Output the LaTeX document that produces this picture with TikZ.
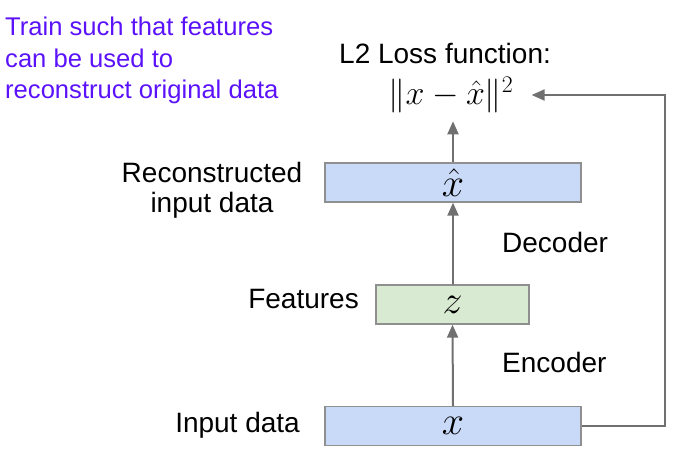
\RequirePackage{fix-cm}
\documentclass[tikz,border=0pt]{standalone}
\usepackage[no-math]{fontspec}
\setmainfont{Liberation Sans}
\usetikzlibrary{arrows.meta}
\definecolor{boxblue}{HTML}{C9DAF8}
\definecolor{boxgreen}{HTML}{D9EAD3}
\definecolor{boxedge}{HTML}{8F8F8F}
\definecolor{linegray}{HTML}{707070}
\definecolor{notepurple}{HTML}{5B12FA}
\tikzset{
  layerbox/.style={draw=boxedge, line width=1.3pt, inner sep=0pt, minimum height=39pt, font=\fontsize{40}{44}\selectfont},
  lossfont/.style={font=\fontsize{34}{38}\selectfont},
  lbl/.style={font=\fontsize{28}{30}\selectfont, inner sep=0pt},
  arr/.style={draw=linegray, line width=2pt, -{Triangle[length=13pt,width=11pt]}},
}
\begin{document}
\begin{tikzpicture}[x=1pt,y=-1pt]
\useasboundingbox (0,0) rectangle (698,472);
% boxes
\node[layerbox, fill=boxblue, minimum width=256pt] (inbox) at (453,426) {$x$};
\node[layerbox, fill=boxgreen, minimum width=153pt] (zbox) at (452.5,304.5) {$z$};
\node[layerbox, fill=boxblue, minimum width=256pt] (xhat) at (453,182.5) {$\hat{x}$};
\node[lossfont, inner sep=0pt] (loss) at (451,95) {$\|x-\hat{x}\|^2$};
\coordinate (turn) at (665,95);
% connectors
\draw[arr] (inbox.north) -- (zbox.south);
\draw[arr] (zbox.north) -- (xhat.north |- zbox.north) -- (xhat.south);
\draw[arr, shorten >=8pt] (xhat.north) -- (xhat.north |- loss.south);
\draw[arr, shorten >=18pt] (inbox.east) -| (turn) -- (loss.east |- turn);
% labels
\node[lbl, anchor=base west] (l2) at (339,63) {L2 Loss function:};
\node[lbl, anchor=base east] (feat) at (359,308) {Features};
\node[lbl, anchor=base east] (inp) at (300,432) {Input data};
\node[lbl, anchor=base west] (dec) at (502,252) {Decoder};
\node[lbl, anchor=base west] (enc) at (502,372) {Encoder};
\node[lbl, align=center] (recon) at (212,190) {Reconstructed\\input data};
\node[font=\fontsize{25.6}{31.5}\selectfont, text=notepurple, inner sep=0pt, align=left, anchor=north west] (note) at (5,17) {Train such that features\\can be used to\\reconstruct original data};
\end{tikzpicture}
\end{document}
